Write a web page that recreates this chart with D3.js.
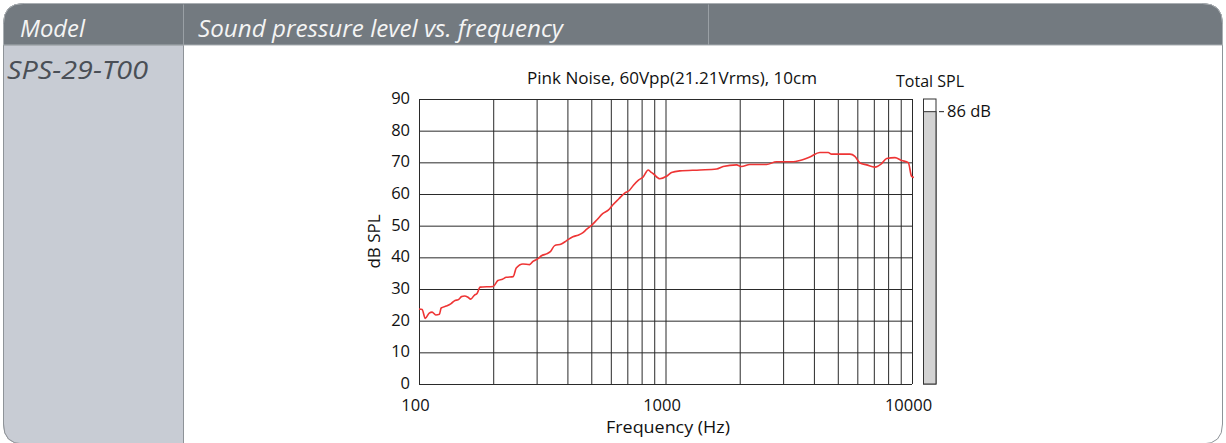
<!DOCTYPE html>
<html><head><meta charset="utf-8">
<script src="https://cdn.jsdelivr.net/npm/d3@7"></script>
<style>
html,body{margin:0;padding:0;background:#fff;}
svg{display:block;}
text{font-family:"Open Sans","Noto Sans",sans-serif;}
</style></head>
<body>
<svg id="c" width="1226" height="443"></svg>
<script>
// ---- data ----
const modelName = "SPS-29-T00";
const headerLabels = ["Model", "Sound pressure level vs. frequency"];
const chartTitle = "Pink Noise, 60Vpp(21.21Vrms), 10cm";
const xTickLabels = [100, 1000, 10000];
const yTickLabels = [0, 10, 20, 30, 40, 50, 60, 70, 80, 90];
const freqHz = [100,103,106,110,113,117,121,123,129,135,140,144,149,153,158,162,168,172,177,200,
  209,218,226,241,248,264,281,290,304,314,329,341,355,378,396,421,442,461,478,501,525,556,586,612,
  647,683,713,740,775,812,851,870,892,948,1009,1058,1143,1380,1611,1713,1942,2034,2198,2570,2820,
  3296,3508,3852,4228,4571,4720,5600,5866,6150,6545,7070,7530,7890,8530,9070,9660,9960,10180];
const splDb = [23.7,23.5,20.7,22.4,22.7,21.8,22.0,24.0,24.6,25.4,26.4,26.6,27.6,27.8,27.4,26.8,28.1,28.6,30.6,30.8,
  32.7,33.1,33.7,33.9,36.6,37.9,37.7,38.7,39.6,40.5,41.1,41.8,43.7,44.2,45.2,46.5,47.0,47.7,48.8,50.1,51.7,53.8,54.9,56.6,
  58.5,60.3,61.1,62.7,64.3,65.4,67.6,67.0,66.4,64.8,65.6,66.8,67.3,67.6,67.9,68.7,69.2,68.7,69.3,69.3,70.2,
  70.2,70.6,71.7,73.1,73.1,72.6,72.6,71.9,69.8,69.2,68.5,69.6,71.2,71.5,70.6,69.9,65.6,65.2];
const totalSpl = 86;
const totalLabel = "Total SPL";

const svg = d3.select("#c");

// ---- frame / table ----
const L = 3.5, R = 1222.5, T = 3.5, B = 444, rad = 20, hdrB = 45, sep1 = 183.5, sep2 = 708.5;
svg.append("path")
  .attr("d", `M${L},${T+rad} Q${L},${T} ${L+rad},${T} L${R-rad},${T} Q${R},${T} ${R},${T+rad} L${R},${B-rad} Q${R},${B} ${R-rad},${B} L${L+rad},${B} Q${L},${B} ${L},${B-rad} Z`)
  .attr("fill", "#fff").attr("stroke", "#8e9398").attr("stroke-width", 1);
svg.append("path")
  .attr("d", `M${L},${hdrB} L${sep1},${hdrB} L${sep1},${B} L${L+rad},${B} Q${L},${B} ${L},${B-rad} Z`)
  .attr("fill", "#c8ccd4").attr("stroke", "#8e9398").attr("stroke-width", 1);
svg.append("path")
  .attr("d", `M${L},${hdrB} L${L},${T+rad} Q${L},${T} ${L+rad},${T} L${R-rad},${T} Q${R},${T} ${R},${T+rad} L${R},${hdrB} Z`)
  .attr("fill", "#737a80").attr("stroke", "#a9aeb2").attr("stroke-width", 1);
[sep1, sep2].forEach(sx => svg.append("line").attr("x1", sx).attr("x2", sx).attr("y1", T+1).attr("y2", hdrB)
  .attr("stroke", "#9aa0a5").attr("stroke-width", 1));

svg.append("text").attr("x", 20).attr("y", 37).text(headerLabels[0])
  .attr("fill", "#f4f4f4").attr("font-style", "italic").attr("font-size", 23)
  .attr("textLength", 65).attr("lengthAdjust", "spacingAndGlyphs");
svg.append("text").attr("x", 198).attr("y", 37).text(headerLabels[1])
  .attr("fill", "#f4f4f4").attr("font-style", "italic").attr("font-size", 23)
  .attr("textLength", 365).attr("lengthAdjust", "spacingAndGlyphs");
svg.append("text").attr("x", 7).attr("y", 79).text(modelName)
  .attr("fill", "#4a4f56").attr("font-style", "italic").attr("font-size", 25)
  .attr("textLength", 141).attr("lengthAdjust", "spacingAndGlyphs");

// ---- chart ----
const x0 = 419, x1 = 912, y0 = 384, y1 = 99;
const x = d3.scaleLog().domain([100, 10000]).range([x0, x1]);
const y = d3.scaleLinear().domain([0, 90]).range([y0, y1]);

const g = svg.append("g");
const gx = g.append("g").attr("transform", `translate(0,${y0})`)
  .call(d3.axisBottom(x).tickSize(-(y0 - y1)).tickFormat(d => xTickLabels.includes(d) ? d : ""));
gx.select(".domain").remove();
gx.selectAll(".tick line").attr("stroke", "#2a2a2a").attr("stroke-width", 1);
gx.selectAll(".tick text").attr("font-size", 16.5).attr("fill", "#111").attr("dy", 0).attr("dx", -4).attr("y", 27);
const gy = g.append("g").attr("transform", `translate(${x0},0)`)
  .call(d3.axisLeft(y).tickValues(yTickLabels).tickSize(-(x1 - x0)).tickPadding(9));
gy.select(".domain").remove();
gy.selectAll(".tick line").attr("stroke", "#2a2a2a").attr("stroke-width", 1);
gy.selectAll(".tick text").attr("font-size", 16.5).attr("fill", "#111").attr("dy", "0.28em");

const line = d3.line().x((d, i) => x(freqHz[i])).y(d => y(d)).curve(d3.curveMonotoneX);
g.append("path").datum(splDb).attr("d", line)
  .attr("fill", "none").attr("stroke", "#ee3535").attr("stroke-width", 1.6).attr("stroke-linejoin", "round");

svg.append("text").attr("x", 672).attr("y", 84).attr("text-anchor", "middle")
  .attr("font-size", 16.5).attr("fill", "#111").text(chartTitle)
  .attr("textLength", 290).attr("lengthAdjust", "spacingAndGlyphs");
svg.append("text").attr("x", 668).attr("y", 433).attr("text-anchor", "middle")
  .attr("font-size", 16).attr("fill", "#111").text("Frequency (Hz)")
  .attr("textLength", 124).attr("lengthAdjust", "spacingAndGlyphs");
svg.append("text").attr("transform", `translate(380,${(y0 + y1) / 2}) rotate(-90)`).attr("text-anchor", "middle")
  .attr("font-size", 17).attr("fill", "#111").text("dB SPL");

const bx0 = 923.5, bw = 12.5;
svg.append("rect").attr("x", bx0).attr("y", y(90)).attr("width", bw).attr("height", y(0) - y(90))
  .attr("fill", "#fff").attr("stroke", "#333").attr("stroke-width", 1);
svg.append("rect").attr("x", bx0).attr("y", y(totalSpl)).attr("width", bw).attr("height", y(0) - y(totalSpl))
  .attr("fill", "#d3d3d3").attr("stroke", "#333").attr("stroke-width", 1);
svg.append("line").attr("x1", bx0 + bw + 3).attr("x2", bx0 + bw + 8).attr("y1", y(totalSpl)).attr("y2", y(totalSpl))
  .attr("stroke", "#222").attr("stroke-width", 1);
svg.append("text").attr("x", bx0 + bw + 11).attr("y", y(totalSpl)).attr("dy", "0.35em")
  .attr("font-size", 16.5).attr("fill", "#111").text(totalSpl + " dB");
svg.append("text").attr("x", 930).attr("y", 87).attr("text-anchor", "middle")
  .attr("font-size", 16).attr("fill", "#111").text(totalLabel);
</script>
</body></html>
